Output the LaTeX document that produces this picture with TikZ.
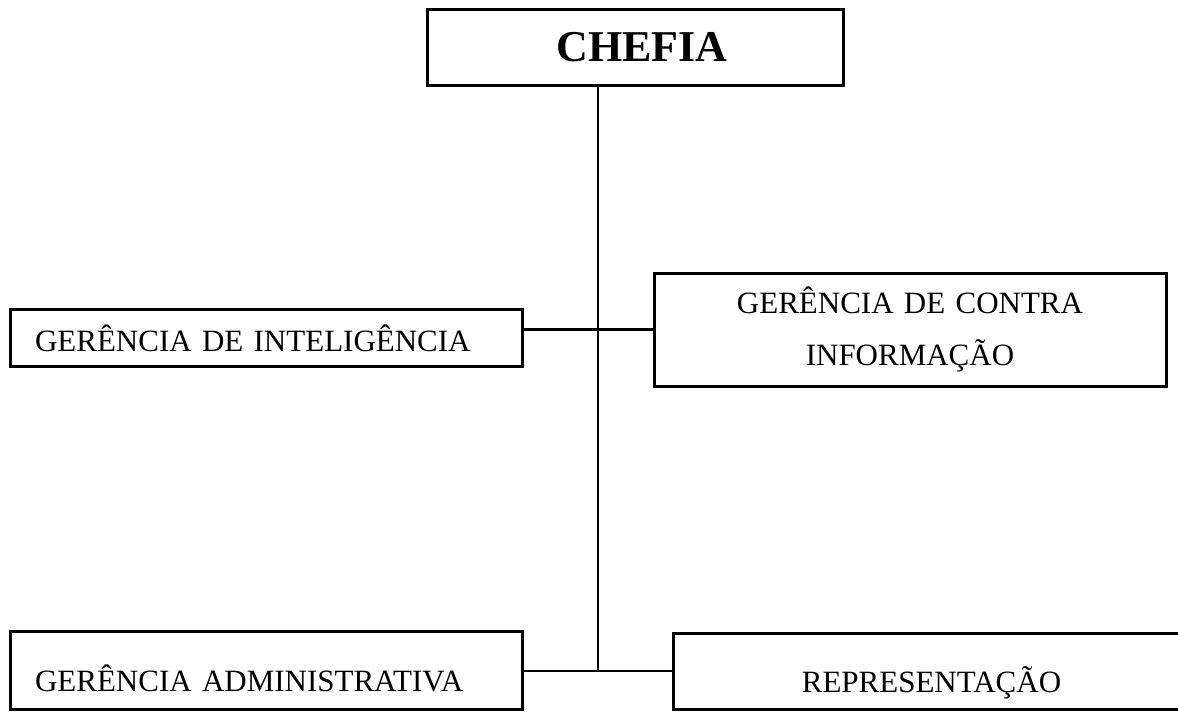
\documentclass[tikz,border=0pt]{standalone}
\usepackage{fontspec}
\setmainfont{Liberation Serif}
\tikzset{
	caixa/.style={draw, line width=3pt, inner sep=0pt, font=\fontsize{31}{52}\selectfont},
	ligacao/.style={line width=2.5pt}
}
\begin{document}
\begin{tikzpicture}[x=1pt,y=-1pt]
	\useasboundingbox (0,0) rectangle (1178,713);
	\node[caixa, minimum width=416pt, minimum height=76pt, font=\fontsize{44}{52}\selectfont\bfseries] (chefia) at (635,47) {\hspace*{14pt}CHEFIA};
	\node[caixa, inner xsep=25pt, text width=462pt, align=left, minimum height=57pt] (intel) at (266,338) {GERÊNCIA DE INTELIGÊNCIA};
	\node[caixa, inner xsep=25pt, text width=462pt, align=center, minimum height=113pt] (contra) at (910,329.5) {GERÊNCIA DE CONTRA\\INFORMAÇÃO};
	% texto um pouco abaixo do centro nas caixas de baixo
	\node[caixa, inner xsep=25pt, text width=462pt, align=left, minimum height=78pt, text height=42pt, text depth=0pt] (admin) at (266,670) {GERÊNCIA ADMINISTRATIVA};
	\node[caixa, minimum width=517pt, minimum height=76pt, text height=42pt, text depth=0pt] (repr) at (931.5,671) {REPRESENTAÇÃO};
	
	\coordinate (tronco) at (598,671);
	\draw[ligacao] (chefia.south -| tronco) -- (tronco);
	\draw[ligacao] (contra.west) -- (contra.west -| intel.east);
	\draw[ligacao] (admin.east |- tronco) -- (repr.west |- tronco);
\end{tikzpicture}
\end{document}
